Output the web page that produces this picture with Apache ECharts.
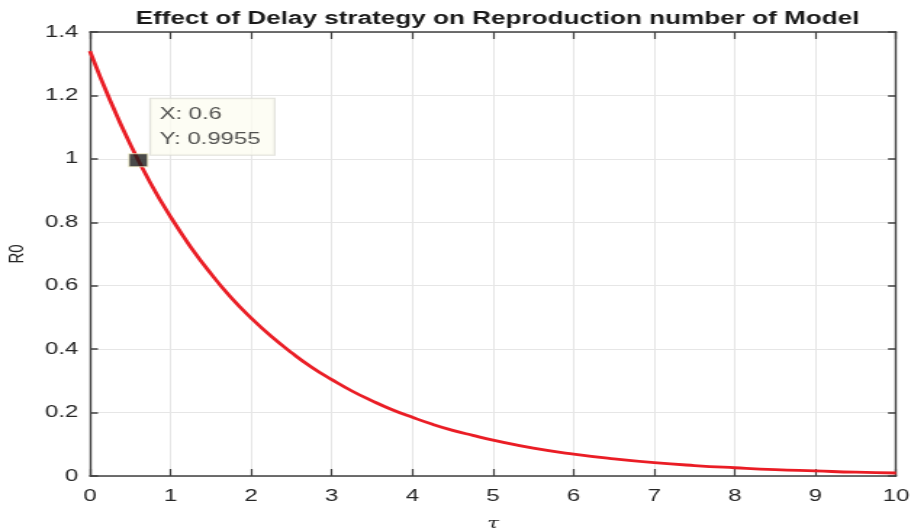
<!DOCTYPE html>
<html>
<head>
<meta charset="utf-8">
<script src="https://cdn.jsdelivr.net/npm/echarts@6/dist/echarts.min.js"></script>
<style>
html,body{margin:0;padding:0;background:#fff;overflow:hidden;}
#wrap{width:911px;height:531px;overflow:hidden;}
#c{width:628px;height:531px;transform:scaleX(1.4506);transform-origin:0 0;}
</style>
</head>
<body>
<div id="wrap"><div id="c"></div></div>
<script>
var tau = [0,0.25,0.5,0.75,1,1.25,1.5,1.75,2,2.25,2.5,2.75,3,3.25,3.5,3.75,4,4.25,4.5,4.75,5,5.5,6,6.5,7,7.5,8,8.5,9,9.5,10];
var r0  = [1.340,1.184,1.046,0.924,0.817,0.722,0.638,0.563,0.498,0.440,0.389,0.343,0.304,0.268,0.237,0.209,0.185,0.163,0.144,0.128,0.113,0.088,0.069,0.054,0.042,0.033,0.026,0.020,0.016,0.012,0.0095];
var tipX = 0.6;
var tipY = 0.9955;
var titleText = 'Effect of Delay strategy on Reproduction number of Model';
var xTicks = [0,1,2,3,4,5,6,7,8,9,10];
var yTicks = [0,0.2,0.4,0.6,0.8,1,1.2,1.4];

var chart = echarts.init(document.getElementById('c'));
var axisCol = '#404040';
var textCol = '#262626';
var font = 'Liberation Sans, Arial, Helvetica, sans-serif';
function baseX(extra){
  return Object.assign({
    type:'value', min:0, max:10, interval:1,
    axisLine:{show:true,onZero:false,lineStyle:{color:axisCol,width:1.5}},
    axisTick:{show:true,inside:true,length:7,lineStyle:{color:axisCol,width:1.2}},
    splitLine:{show:false}
  }, extra);
}
function baseY(extra){
  return Object.assign({
    type:'value', min:0, max:1.4, interval:0.2,
    axisLine:{show:true,onZero:false,lineStyle:{color:axisCol,width:1.4}},
    axisTick:{show:true,inside:true,length:5.5,lineStyle:{color:axisCol,width:1.5}},
    splitLine:{show:false}
  }, extra);
}
chart.setOption({
  backgroundColor:'#fff',
  animation:false,
  title:{text:titleText,left:338,top:5,textAlign:'center',
    textStyle:{fontFamily:font,fontWeight:'bold',fontSize:18,color:'#1a1a1a'}},
  grid:{left:62,right:10.3,top:32,bottom:55,outerBoundsMode:'none',containLabel:false},
  xAxis:[
    baseX({position:'bottom',
      name:'τ',nameLocation:'middle',nameGap:41,
      nameTextStyle:{fontFamily:'DejaVu Serif, serif',fontStyle:'italic',fontSize:15,color:textCol},
      axisLabel:{show:true,margin:12,fontFamily:font,fontSize:16.5,color:textCol,
        formatter:function(v){return xTicks.indexOf(v)>=0?String(v):'';}},
      splitLine:{show:true,lineStyle:{color:'#e6e6e6',width:1}}}),
    baseX({position:'top',axisLabel:{show:false}})
  ],
  yAxis:[
    baseY({position:'left',
      name:'R0',nameLocation:'middle',nameGap:43,nameRotate:90,
      nameTextStyle:{fontFamily:font,fontSize:15,color:textCol},
      axisLabel:{show:true,margin:8,fontFamily:font,fontSize:16.5,color:textCol,
        formatter:function(v){var r=Math.round(v*10)/10;return yTicks.indexOf(r)>=0?String(r):'';}},
      splitLine:{show:true,lineStyle:{color:'#e6e6e6',width:1}}}),
    baseY({position:'right',axisLabel:{show:false}})
  ],
  series:[
    {type:'line',smooth:true,symbol:'none',
      data:tau.map(function(t,i){return [t,r0[i]];}),
      lineStyle:{color:'#ea1d25',width:2.8},z:2},
    {type:'scatter',symbol:'rect',symbolSize:[12.9,13],
      data:[[tipX,tipY]],
      itemStyle:{color:'#1c1c1c',borderColor:'#f3efc4',borderWidth:1},
      z:5,
      label:{show:true,position:[15.5,-54.6],
        formatter:'X: '+tipX+'\nY: '+tipY,
        fontFamily:font,fontSize:16.5,color:textCol,lineHeight:25,
        backgroundColor:'#fcfcf1',borderColor:'#d9d9d2',borderWidth:1,
        padding:[3,2,3,6],width:77,align:'left'}}
  ]
});
</script>
</body>
</html>
